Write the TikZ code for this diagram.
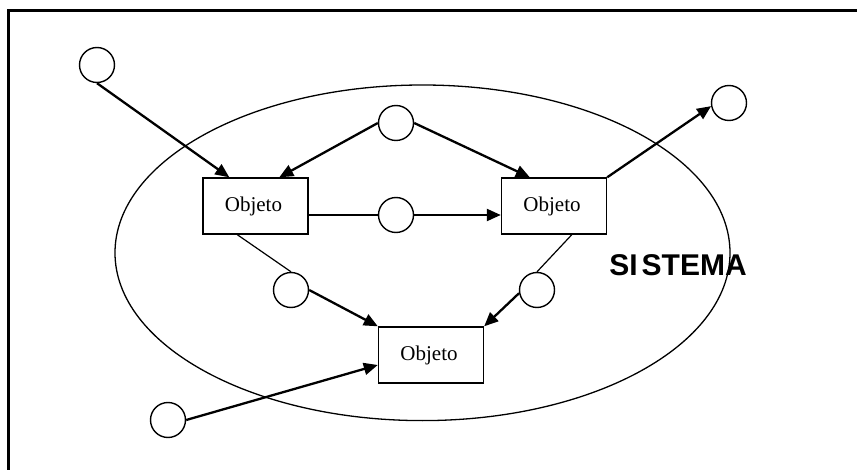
\documentclass[tikz,border=0pt]{standalone}
\usepackage{fontspec}
\setmainfont{Liberation Serif}
\newfontfamily\labelsans{Liberation Sans}
\usetikzlibrary{arrows.meta}
\begin{document}
\begin{tikzpicture}[x=1pt,y=-1pt,
  obj/.style={draw, line width=1.4pt, minimum width=105pt, minimum height=56pt,
    inner sep=0pt, font=\fontsize{21}{25}\selectfont},
  port/.style={draw, circle, line width=1.4pt, minimum size=35pt, inner sep=0pt},
  flow/.style={line width=2.3pt, -{Triangle[length=14pt,width=12pt]}},
  link/.style={line width=1.2pt}]
\useasboundingbox (0,0) rectangle (857,470);

% outer frame (runs off the right and bottom edges)
\draw[line width=2.2pt] (8.5,480) -- (8.5,10.5) -- (870,10.5);

% system boundary
\draw[line width=1.3pt] (422.5,252.8) ellipse [x radius=307.5pt, y radius=167.8pt];

% objects
\node[obj] (b1) at (255.5,206) {\raisebox{3pt}{Objeto}\kern4pt};
\node[obj] (b2) at (554,206) {\raisebox{3pt}{Objeto}\kern4pt};
\node[obj] (b3) at (431,355) {\raisebox{3pt}{Objeto}\kern4pt};

% messages
\node[port] (pA) at (97,65) {};
\node[port] (pB) at (396,123) {};
\node[port] (pC) at (396,215) {};
\node[port] (pD) at (729,103) {};
\node[port] (pE) at (291,290) {};
\node[port] (pF) at (537,290) {};
\node[port] (pG) at (168,420) {};

\node (sis) at (678,265.5) {\labelsans\bfseries\fontsize{30}{34}\selectfont SI\kern4pt STEMA};

% connectors
\draw[flow] (pA.south) -- ([xshift=27pt]b1.north west);
\draw[flow] (pB.west) -- ([xshift=77pt]b1.north west);
\draw[flow] (pB.east) -- ([xshift=29pt]b2.north west);
\draw[link] ([yshift=-9pt]b1.east) -- (pC.west);
\draw[flow] (pC.east) -- ([yshift=-9pt]b2.west);
\draw[flow] (b2.north east) -- (pD.190);
\draw[link] ([xshift=35pt]b1.south west) -- (pE.north);
\draw[flow] (pE.east) -- (b3.north west);
\draw[link] ([xshift=71pt]b2.south west) -- (pF.north);
\draw[flow] (pF.190) -- (b3.north east);
\draw[flow] (pG.east) -- ([yshift=-10pt]b3.west);
\end{tikzpicture}
\end{document}
